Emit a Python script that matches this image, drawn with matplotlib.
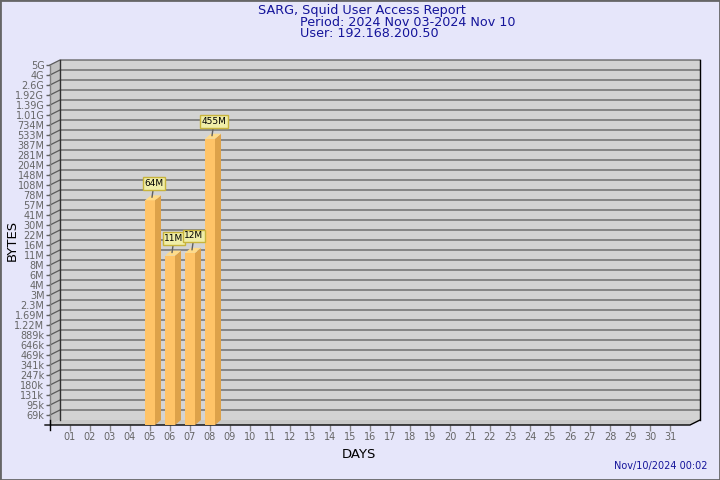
import matplotlib
matplotlib.use("Agg")
import matplotlib.pyplot as plt
from matplotlib.patches import Polygon, Rectangle
from matplotlib.lines import Line2D
from matplotlib.transforms import IdentityTransform, ScaledTranslation

# data
days = ['%02d' % d for d in range(1, 32)]
bar_days = [5, 6, 7, 8]
bar_bytes = [64e6, 11e6, 12e6, 455e6]
bar_labels = ['64M', '11M', '12M', '455M']
ytick_labels = ['69k', '95k', '131k', '180k', '247k', '341k', '469k', '646k', '889k',
                '1.22M', '1.69M', '2.3M', '3M', '4M', '6M', '8M', '11M', '16M', '22M',
                '30M', '41M', '57M', '78M', '108M', '148M', '204M', '281M', '387M',
                '533M', '734M', '1.01G', '1.39G', '1.92G', '2.6G', '4G', '5G']

base = 50000
step = 1.375
yticks = [base * step ** (i + 1) for i in range(len(ytick_labels))]

navy = '#14149A'
fig = plt.figure(figsize=(7.2, 4.8), dpi=100, facecolor='#E6E6FA')
ax = fig.add_axes([50 / 720, 55 / 480, 640 / 720, 360 / 480])
ax.set_xlim(0, 32)
ax.set_yscale('log')
ax.set_ylim(base, yticks[-1])
ax.patch.set_visible(False)
for s in ax.spines.values():
    s.set_visible(False)

ax.set_yticks(yticks, ytick_labels)
ax.minorticks_off()
ax.set_xticks(range(1, 32), days)
ax.tick_params(axis='y', length=3, width=1, color='#606060', labelsize=7,
               labelcolor='#666666', pad=1)
ax.tick_params(axis='x', length=4, width=1, color='#888888', labelsize=7,
               labelcolor='#666666', pad=1)

D = IdentityTransform()
px = ax.transData.transform
x0, y0 = ax.transAxes.transform((0, 0))
x1, y1 = ax.transAxes.transform((1, 1))
dx, dy = 10, 5

def poly(pts, fc, z):
    ax.add_patch(Polygon(pts, closed=True, fc=fc, ec='none', transform=D,
                         clip_on=False, zorder=z))

def seg(xs, ys, c, z=1.5, lw=1):
    ax.add_line(Line2D(xs, ys, color=c, lw=lw, transform=D, clip_on=False, zorder=z))

# walls and floor
poly([(x0 + dx, y0 + dy), (x1 + dx, y0 + dy), (x1 + dx, y1 + dy), (x0 + dx, y1 + dy)], '#D3D3D3', 0.5)
poly([(x0, y0), (x0 + dx, y0 + dy), (x0 + dx, y1 + dy), (x0, y1)], '#C0C0C0', 0.5)
poly([(x0, y0), (x1, y0), (x1 + dx, y0 + dy), (x0 + dx, y0 + dy)], '#C8C8C8', 0.5)

# grid
for v in yticks:
    gx, gy = px((0, v))
    seg([gx, gx + dx, x1 + dx], [gy, gy + dy, gy + dy], '#5A5A5A', lw=0.9)

seg([x0 + dx, x0 + dx], [y0 + dy, y1 + dy], '#303030', 1.6)
seg([x1 + dx, x1 + dx], [y0 + dy, y1 + dy], '#000000', 1.6)
seg([x0, x0], [y0, y1], '#808080', 1.6)
seg([x0 - 5, x1, x1 + dx], [y0, y0, y0 + dy], '#000000', 1.6)
seg([x0, x0], [y0 - 5, y0 + 5], '#000000', 1.6)

# bars
front, side, top = '#FFC468', '#DDA24A', '#FFDC8A'
ax.bar(bar_days, [v - base for v in bar_bytes], width=0.5, bottom=base,
       color=front, zorder=3)
bx, by = 6, 5
for d, v, lab in zip(bar_days, bar_bytes, bar_labels):
    lx, ly = px((d - 0.25, v))
    rx, ry = px((d + 0.25, v))
    _, b0 = px((d, base))
    poly([(rx, b0), (rx, ry), (rx + bx, ry + by), (rx + bx, b0 + by)], side, 3)
    poly([(lx, ly), (rx, ry), (rx + bx, ry + by), (lx + bx, ly + by)], top, 3)
    ax.annotate(lab, xy=(d, v), xycoords=ax.transData + ScaledTranslation(0.02, 0.03, fig.dpi_scale_trans),
                xytext=(2, 14), textcoords='offset pixels', ha='center', va='center',
                fontsize=6.5, color='black', zorder=5,
                bbox=dict(boxstyle='square,pad=0.2', fc='#F0EEA8', ec='#C8B43C', lw=1),
                arrowprops=dict(arrowstyle='-', color='#606060', lw=1, shrinkA=0, shrinkB=0))

# texts
fig.text(362 / 720, 1 - 10.5 / 480, 'SARG, Squid User Access Report', ha='center', va='center',
         color=navy, fontsize=9.2)
fig.text(300 / 720, 1 - 22 / 480, 'Period: 2024 Nov 03-2024 Nov 10', ha='left', va='center',
         color=navy, fontsize=9.2)
fig.text(300 / 720, 1 - 33.5 / 480, 'User: 192.168.200.50', ha='left', va='center',
         color=navy, fontsize=9.2)
fig.text(12 / 720, 1 - 240 / 480, 'BYTES', rotation=90, ha='center', va='center',
         color='black', fontsize=9.5)
fig.text(359 / 720, 1 - 455 / 480, 'DAYS', ha='center', va='center', color='black', fontsize=9.5)
fig.text(708 / 720, 1 - 466 / 480, 'Nov/10/2024 00:02', ha='right', va='center',
         color=navy, fontsize=7)

fig.add_artist(Rectangle((0, 0), 1, 1, transform=fig.transFigure, fill=False,
                         ec='#666666', lw=2))

fig.savefig('out.png', dpi=100, facecolor=fig.get_facecolor())
